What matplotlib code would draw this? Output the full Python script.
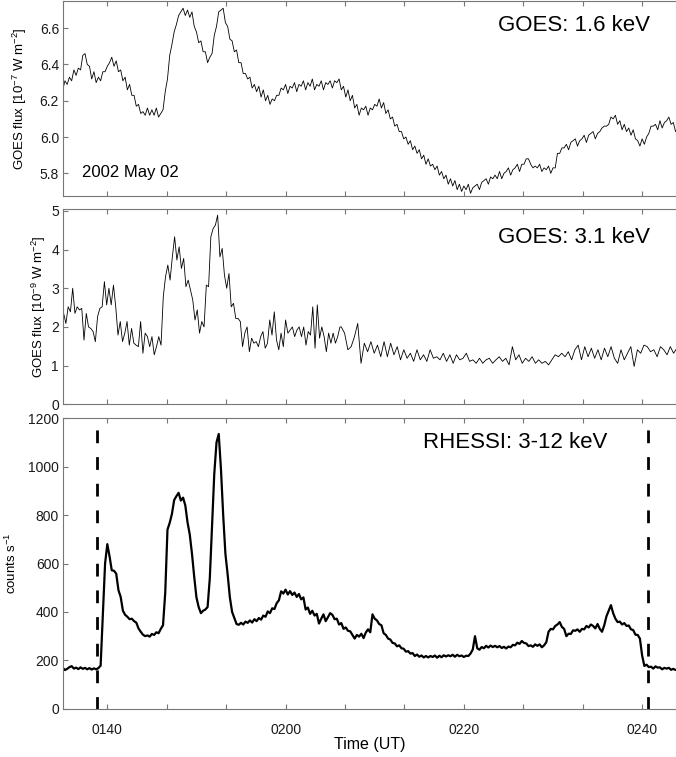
"""GOES 1.6 / 3.1 keV and RHESSI 3-12 keV light curves, 2002 May 02."""
import numpy as np
import matplotlib
matplotlib.use("Agg")
import matplotlib.pyplot as plt
from matplotlib.ticker import FixedLocator, MultipleLocator, FuncFormatter

plt.rcParams["font.family"] = ["Liberation Sans", "DejaVu Sans"]
plt.rcParams["mathtext.fontset"] = "custom"
plt.rcParams["mathtext.rm"] = "Liberation Sans"
plt.rcParams["mathtext.default"] = "regular"

# time axis in minutes after 00:00 UT
t_fine = np.arange(95.0, 164.01, 0.25)

# GOES 1.6 keV flux [1e-7 W m^-2], one row per minute (95 ... 164)
goes_lo = [
    6.26, 6.31, 6.29, 6.33, 6.31, 6.37, 6.34, 6.38, 6.37, 6.45, 6.46, 6.40,
    6.39, 6.32, 6.36, 6.30, 6.33, 6.31, 6.36, 6.36, 6.39, 6.41, 6.44, 6.39,
    6.42, 6.36, 6.37, 6.31, 6.33, 6.26, 6.29, 6.23, 6.23, 6.17, 6.18, 6.13,
    6.14, 6.12, 6.16, 6.12, 6.15, 6.12, 6.16, 6.11, 6.13, 6.15, 6.25, 6.32,
    6.45, 6.51, 6.58, 6.62, 6.67, 6.69, 6.71, 6.67, 6.70, 6.66, 6.69, 6.61,
    6.58, 6.52, 6.53, 6.47, 6.47, 6.41, 6.44, 6.46, 6.56, 6.61, 6.69, 6.70,
    6.71, 6.63, 6.61, 6.54, 6.53, 6.47, 6.48, 6.41, 6.41, 6.35, 6.35, 6.32,
    6.33, 6.27, 6.29, 6.25, 6.28, 6.22, 6.26, 6.20, 6.23, 6.18, 6.21, 6.20,
    6.23, 6.23, 6.27, 6.26, 6.29, 6.24, 6.28, 6.27, 6.30, 6.25, 6.29, 6.28,
    6.31, 6.26, 6.30, 6.28, 6.32, 6.26, 6.29, 6.28, 6.31, 6.26, 6.30, 6.29,
    6.31, 6.27, 6.31, 6.30, 6.32, 6.26, 6.28, 6.22, 6.26, 6.20, 6.23, 6.16,
    6.18, 6.12, 6.16, 6.15, 6.17, 6.12, 6.16, 6.15, 6.18, 6.17, 6.21, 6.16,
    6.19, 6.13, 6.15, 6.10, 6.11, 6.06, 6.07, 6.03, 6.03, 5.99, 6.00, 5.96,
    5.98, 5.93, 5.95, 5.91, 5.93, 5.88, 5.90, 5.85, 5.88, 5.84, 5.85, 5.82,
    5.84, 5.79, 5.81, 5.77, 5.79, 5.74, 5.77, 5.73, 5.76, 5.71, 5.74, 5.70,
    5.73, 5.71, 5.74, 5.69, 5.72, 5.73, 5.74, 5.71, 5.75, 5.76, 5.77, 5.74,
    5.78, 5.77, 5.79, 5.77, 5.81, 5.77, 5.80, 5.81, 5.83, 5.79, 5.82, 5.83,
    5.85, 5.81, 5.85, 5.85, 5.88, 5.88, 5.85, 5.83, 5.84, 5.83, 5.85, 5.81,
    5.83, 5.82, 5.84, 5.80, 5.83, 5.83, 5.91, 5.91, 5.94, 5.94, 5.96, 5.93,
    5.97, 5.98, 5.99, 5.95, 5.98, 5.99, 6.01, 5.97, 6.01, 6.02, 6.03, 5.99,
    6.02, 6.03, 6.05, 6.06, 6.06, 6.07, 6.11, 6.10, 6.12, 6.07, 6.09, 6.04,
    6.07, 6.03, 6.05, 6.01, 6.04, 5.99, 5.98, 5.95, 5.99, 5.96, 6.00, 6.02,
    6.06, 6.06, 6.07, 6.04, 6.09, 6.05, 6.08, 6.09, 6.11, 6.07, 6.08, 6.03,
    6.05,
]

# GOES 3.1 keV flux [1e-9 W m^-2], two sampling blocks
t_hi_a = np.linspace(95.1, 126.1, 123)
goes_hi_a = [
    2.35, 2.09, 2.52, 2.39, 3.00, 2.35, 2.52, 2.44, 2.48, 1.66,
    2.35, 2.00, 1.96, 1.88, 1.62, 2.27, 2.48, 2.52, 3.17, 2.57,
    3.00, 2.57, 3.08, 2.52, 1.79, 2.14, 1.62, 1.84, 2.14, 1.53,
    1.96, 1.58, 1.53, 1.49, 2.14, 1.32, 1.84, 1.75, 1.49, 1.75,
    1.28, 1.49, 1.75, 1.53, 2.78, 3.30, 3.60, 3.21, 3.81, 4.33,
    3.73, 4.07, 3.51, 3.77, 3.04, 3.21, 2.95, 2.70, 2.18, 2.44,
    1.84, 2.14, 2.00, 3.08, 3.04, 4.33, 4.54, 4.63, 4.89, 3.81,
    4.03, 3.34, 3.00, 3.38, 2.52, 2.61, 2.22, 2.22, 2.14, 1.49,
    1.84, 2.00, 1.36, 1.71, 1.58, 1.62, 1.49, 1.75, 1.88, 1.45,
    1.58, 2.18, 1.79, 2.39, 1.66, 1.41, 1.84, 1.49, 2.18, 1.84,
    1.92, 2.00, 1.75, 1.92, 2.00, 1.75, 2.00, 1.53, 1.88, 1.79,
    2.52, 1.45, 2.57, 1.71, 2.00, 1.75, 1.36, 1.84, 1.58, 1.84,
    1.58, 1.75, 2.00,
]
t_hi_b = np.linspace(126.25, 163.9, 103)
goes_hi_b = [
    2.00, 1.84, 1.41, 1.49, 1.75, 2.09, 1.06, 1.58, 1.36, 1.62,
    1.32, 1.53, 1.23, 1.62, 1.23, 1.58, 1.28, 1.49, 1.15, 1.41,
    1.19, 1.32, 1.11, 1.41, 1.15, 1.28, 1.11, 1.41, 1.19, 1.23,
    1.15, 1.32, 1.11, 1.28, 1.06, 1.28, 1.15, 1.19, 1.32, 1.11,
    1.15, 1.06, 1.19, 1.06, 1.15, 1.19, 1.06, 1.15, 1.23, 1.11,
    1.19, 1.02, 1.49, 1.15, 1.28, 1.06, 1.19, 1.11, 1.23, 1.06,
    1.15, 1.06, 1.11, 1.02, 1.15, 1.28, 1.23, 1.32, 1.23, 1.36,
    1.15, 1.41, 1.53, 1.15, 1.49, 1.23, 1.45, 1.19, 1.41, 1.15,
    1.45, 1.23, 1.49, 1.19, 1.06, 1.41, 1.15, 1.32, 1.49, 0.98,
    1.41, 1.32, 1.53, 1.49, 1.36, 1.41, 1.23, 1.49, 1.41, 1.28,
    1.49, 1.32, 1.45,
]

# RHESSI 3-12 keV count rate [counts/s], one row per minute (95 ... 164)
rhessi = [
    169, 160, 165, 172, 176, 166, 170, 164, 171, 165, 169, 163,
    168, 162, 167, 163, 168, 178, 385, 600, 680, 630, 572, 570,
    558, 490, 462, 405, 388, 380, 370, 372, 362, 356, 332, 318,
    306, 300, 303, 298, 309, 305, 316, 312, 330, 345, 480, 740,
    768, 805, 862, 878, 892, 860, 872, 840, 770, 720, 640, 545,
    460, 420, 395, 405, 410, 420, 540, 750, 970, 1100, 1135, 990,
    800, 640, 555, 460, 400, 375, 350, 347, 355, 348, 360, 355,
    365, 356, 370, 362, 375, 368, 385, 380, 402, 395, 415, 412,
    436, 448, 485, 476, 492, 472, 486, 470, 480, 462, 474, 452,
    460, 410, 418, 392, 405, 385, 392, 352, 372, 390, 362, 378,
    395, 388, 370, 372, 348, 354, 330, 336, 322, 320, 305, 290,
    305, 298, 310, 292, 315, 328, 316, 390, 372, 365, 350, 345,
    312, 305, 290, 286, 272, 270, 258, 262, 250, 248, 236, 238,
    228, 230, 218, 224, 215, 220, 212, 218, 212, 218, 214, 220,
    211, 219, 213, 221, 216, 221, 217, 223, 215, 223, 217, 220,
    214, 219, 218, 228, 245, 300, 250, 244, 255, 250, 260, 253,
    261, 255, 260, 254, 259, 251, 256, 249, 257, 254, 264, 262,
    273, 268, 280, 272, 270, 259, 262, 256, 266, 260, 266, 254,
    262, 275, 318, 330, 328, 342, 348, 358, 338, 330, 300, 310,
    309, 324, 322, 328, 318, 330, 328, 342, 336, 348, 342, 332,
    350, 330, 318, 345, 382, 405, 428, 395, 372, 358, 360, 348,
    354, 342, 344, 328, 325, 306, 305, 290, 220, 177, 182, 172,
    174, 166, 175, 170, 171, 163, 169, 166, 169, 161, 165, 160,
    163,
]
rhessi_window = [98.85, 160.65]

XLIM = (95.06, 163.8)
SPINE = "#777777"


def hhmm(m, pos):
    m = int(round(m))
    return f"{m // 60:02d}{m % 60:02d}"


def style_axis(ax, show_xlabels=False):
    ax.set_xlim(*XLIM)
    ax.xaxis.set_major_locator(FixedLocator([100, 120, 140, 160]))
    ax.xaxis.set_minor_locator(MultipleLocator(20 / 3))
    ax.xaxis.set_major_formatter(FuncFormatter(hhmm))
    ax.tick_params(which="both", direction="in", top=True, right=False,
                   length=3.6, width=0.8, color=SPINE, labelsize=10,
                   labelcolor="#1a1a1a")
    ax.tick_params(axis="y", pad=3)
    ax.tick_params(axis="x", pad=10, labelbottom=show_xlabels)
    ax.spines["right"].set_visible(False)
    for s in ("left", "top", "bottom"):
        ax.spines[s].set_color(SPINE)
        ax.spines[s].set_linewidth(0.8)


fig = plt.figure(figsize=(6.76, 7.57), dpi=100)
ax1 = fig.add_axes([0.0936, 0.7411, 0.9064, 0.2576])
ax2 = fig.add_axes([0.0936, 0.4659, 0.9064, 0.2576])
ax3 = fig.add_axes([0.0936, 0.0637, 0.9064, 0.3838])

# GOES 1.6 keV
ax1.plot(t_fine, goes_lo, color="k", lw=0.6)
style_axis(ax1)
ax1.set_ylim(5.675, 6.75)
ax1.set_yticks([5.8, 6.0, 6.2, 6.4, 6.6])
ax1.yaxis.set_major_formatter(FuncFormatter(lambda v, p: f"{v:.1f}"))
ax1.set_ylabel(r"GOES flux [10$^{-7}$ W m$^{-2}$]", fontsize=9.5, va="center")
ax1.yaxis.set_label_coords(-0.070, 0.5)
ax1.text(0.9576, 0.872, "GOES: 1.6 keV", transform=ax1.transAxes,
         ha="right", va="center", fontsize=16)
ax1.text(0.0305, 0.118, "2002 May 02", transform=ax1.transAxes,
         ha="left", va="center", fontsize=12)

# GOES 3.1 keV
ax2.plot(np.concatenate([t_hi_a, t_hi_b]), goes_hi_a + goes_hi_b,
         color="k", lw=0.6)
style_axis(ax2)
ax2.set_ylim(0, 5.04)
ax2.set_yticks([0, 1, 2, 3, 4, 5])
ax2.set_ylabel(r"GOES flux [10$^{-9}$ W m$^{-2}$]", fontsize=9.5, va="center")
ax2.yaxis.set_label_coords(-0.040, 0.5)
ax2.text(0.9576, 0.858, "GOES: 3.1 keV", transform=ax2.transAxes,
         ha="right", va="center", fontsize=16)

# RHESSI 3-12 keV
ax3.plot(t_fine, rhessi, color="k", lw=1.6)
for tw in rhessi_window:
    ax3.plot([tw, tw], [1200, 0], color="k", lw=2.0,
             linestyle=(5.3, (4.6, 5.0)))
style_axis(ax3, show_xlabels=True)
ax3.set_ylim(0, 1200)
ax3.set_yticks(range(0, 1201, 200))
ax3.set_ylabel(r"counts s$^{-1}$", fontsize=9.5, va="center")
ax3.yaxis.set_label_coords(-0.084, 0.5)
ax3.set_xlabel("Time (UT)", fontsize=11.5, labelpad=0)
ax3.text(0.8874, 0.918, "RHESSI: 3-12 keV", transform=ax3.transAxes,
         ha="right", va="center", fontsize=16)

fig.savefig("out.png", dpi=100)
plt.close(fig)
